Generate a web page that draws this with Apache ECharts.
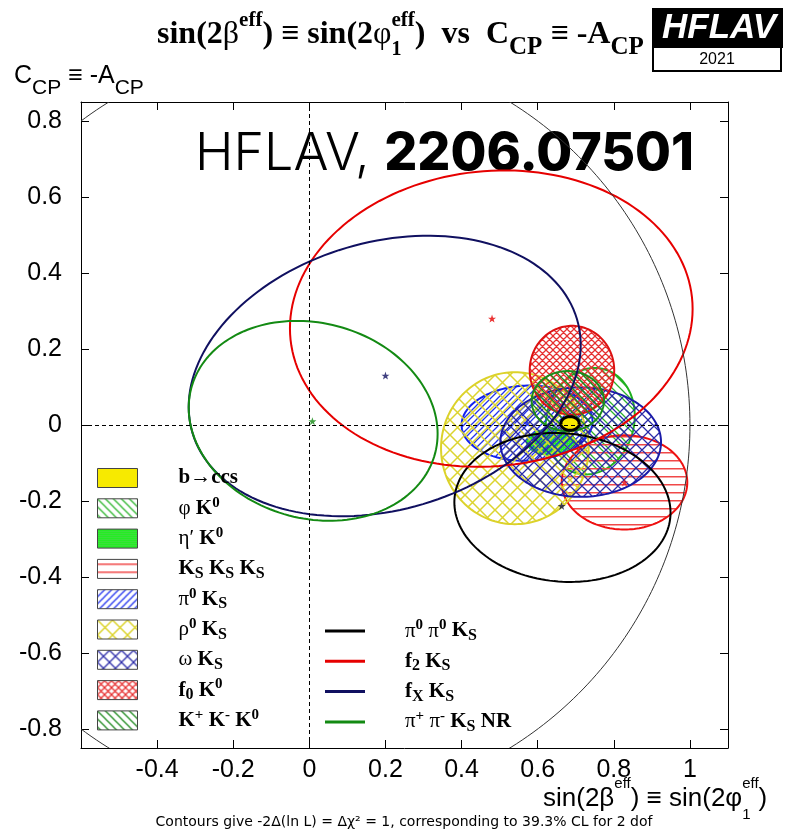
<!DOCTYPE html>
<html>
<head>
<meta charset="utf-8">
<script src="https://cdn.jsdelivr.net/npm/echarts@6.0.0/dist/echarts.min.js"></script>
<style>
html, body { margin: 0; padding: 0; background: #fff; }
#main { width: 787px; height: 834px; }
</style>
</head>
<body>
<div id="main"></div>
<script>
// tick labels
const xTicks = [-0.4, -0.2, 0, 0.2, 0.4, 0.6, 0.8, 1]
const yTicks = [-0.8, -0.6, -0.4, -0.2, 0, 0.2, 0.4, 0.6, 0.8]

// filled contours: central value, 1 sigma errors, correlation
const areaNames = ['b→ccs', 'φ K0', 'η′ K0', 'KS KS KS', 'π0 KS', 'ρ0 KS', 'ω KS', 'f0 K0', 'K+ K- K0']
const areaS    = [0.685, 0.738, 0.635, 0.828, 0.572, 0.540, 0.713, 0.690, 0.679]
const areaC    = [0.004, 0.010, -0.045, -0.151, 0.005, -0.061, -0.045, 0.144, 0.063]
const areaErrS = [0.024, 0.117, 0.065, 0.165, 0.172, 0.194, 0.211, 0.111, 0.095]
const areaErrC = [0.018, 0.140, 0.035, 0.124, 0.099, 0.200, 0.144, 0.117, 0.079]
const areaRho  = [0, 0.1, 0, 0, 0.05, 0, 0, 0, 0]

// line contours
const lineNames = ['π0 π0 KS', 'f2 KS', 'fX KS', 'π+ π- KS NR']
const lineS    = [0.665, 0.478, 0.198, 0.010]
const lineC    = [-0.217, 0.280, 0.129, 0.011]
const lineErrS = [0.284, 0.529, 0.515, 0.327]
const lineErrC = [0.196, 0.390, 0.369, 0.263]
const lineRho  = [-0.07, 0.065, 0.22, -0.13]

// central values drawn as stars
const starS = [0.663, 0.480, 0.200, 0.008, 0.828, 0.713, 0.572]
const starC = [-0.213, 0.280, 0.130, 0.010, -0.151, -0.045, 0.005]

// physical boundary S^2 + C^2 = 1
const boundaryRadius = [1]

// ---- styles ----
function hatch(kind, color, s, lw) {
    const c = document.createElement('canvas')
    c.width = s; c.height = s
    const ctx = c.getContext('2d')
    ctx.strokeStyle = color
    ctx.fillStyle = color
    ctx.lineWidth = lw || 1.25
    ctx.beginPath()
    if (kind === '/' || kind === 'x') {
        ctx.moveTo(-1, s + 1); ctx.lineTo(s + 1, -1)
        ctx.moveTo(-s / 2 - 1, s / 2 + 1); ctx.lineTo(s / 2 + 1, -s / 2 - 1)
        ctx.moveTo(s / 2 - 1, 3 * s / 2 + 1); ctx.lineTo(3 * s / 2 + 1, s / 2 - 1)
    }
    if (kind === '\\' || kind === 'x') {
        ctx.moveTo(-1, -1); ctx.lineTo(s + 1, s + 1)
        ctx.moveTo(-s / 2 - 1, s / 2 - 1); ctx.lineTo(s / 2 + 1, 3 * s / 2 + 1)
        ctx.moveTo(s / 2 - 1, -s / 2 - 1); ctx.lineTo(3 * s / 2 + 1, s / 2 + 1)
    }
    ctx.stroke()
    if (kind === '-') ctx.fillRect(0, Math.floor(s / 2), s, 1.5)
    if (kind === 'dots') {
        ctx.fillRect(0, 0, s, s)
        ctx.fillStyle = '#5ccf5c'
        ctx.fillRect(0, 0, 1, 1)
    }
    return { image: c, repeat: 'repeat' }
}

const areaStyle = {
    'b→ccs':     { fill: '#f7ea00', stroke: '#000', width: 3 },
    'φ K0':      { fill: hatch('\\', '#2db52d', 8), stroke: '#1fb01f', width: 2 },
    'η′ K0':     { fill: hatch('dots', '#22ee22', 2), stroke: '#18d818', width: 1 },
    'KS KS KS':  { fill: hatch('-', '#f04848', 8), stroke: '#ee1111', width: 2 },
    'π0 KS':     { fill: hatch('/', '#2233ee', 7), stroke: '#1122ee', width: 2 },
    'ρ0 KS':     { fill: hatch('x', '#dcd430', 15, 1.5), stroke: '#dcd22a', width: 2 },
    'ω KS':      { fill: hatch('x', '#2a2aa8', 12), stroke: '#1a1aa8', width: 2 },
    'f0 K0':     { fill: hatch('x', '#e63030', 7), stroke: '#dd1111', width: 2 },
    'K+ K- K0':  { fill: hatch('\\', '#1f8a1f', 8), stroke: '#1a8c1a', width: 2 }
}
const lineColor = { 'π0 π0 KS': '#000000', 'f2 KS': '#e60000', 'fX KS': '#101060', 'π+ π- KS NR': '#138a13' }
const starColor = ['#111144', '#e60000', '#101060', '#138a13', '#ee1111', '#1a1aa8', '#1122ee']

const labels = {
    'b→ccs': '{m|b→ccs}',
    'φ K0': '{g|φ}{m| K}{p|0}',
    'η′ K0': '{g|η′}{m| K}{p|0}',
    'KS KS KS': '{m|K}{s|S}{m| K}{s|S}{m| K}{s|S}',
    'π0 KS': '{g|π}{p|0}{m| K}{s|S}',
    'ρ0 KS': '{g|ρ}{p|0}{m| K}{s|S}',
    'ω KS': '{g|ω}{m| K}{s|S}',
    'f0 K0': '{m|f}{s|0}{m| K}{p|0}',
    'K+ K- K0': '{m|K}{p|+}{m| K}{p|-}{m| K}{p|0}',
    'π0 π0 KS': '{g|π}{p|0}{g| π}{p|0}{m| K}{s|S}',
    'f2 KS': '{m|f}{s|2}{m| K}{s|S}',
    'fX KS': '{m|f}{s|X}{m| K}{s|S}',
    'π+ π- KS NR': '{g|π}{p|+}{g| π}{p|-}{m| K}{s|S}{m| NR}'
}
const serif = 'Liberation Serif'
const legendRich = {
    m: { fontFamily: serif, fontWeight: 'bold', fontSize: 21, lineHeight: 26, color: '#000' },
    g: { fontFamily: serif, fontWeight: 'normal', fontSize: 21, lineHeight: 26, color: '#000' },
    p: { fontFamily: serif, fontWeight: 'bold', fontSize: 15, lineHeight: 14, verticalAlign: 'top', color: '#000' },
    s: { fontFamily: serif, fontWeight: 'bold', fontSize: 16, lineHeight: 15, verticalAlign: 'bottom', color: '#000' }
}

function ellipse(style) {
    return function (params, api) {
        const cx = api.value(0), cy = api.value(1), sx = api.value(2), sy = api.value(3), r = api.value(4)
        const pts = []
        for (let k = 0; k < 160; k++) {
            const t = 2 * Math.PI * k / 160
            pts.push(api.coord([cx + sx * Math.cos(t), cy + sy * (r * Math.cos(t) + Math.sqrt(1 - r * r) * Math.sin(t))]))
        }
        return {
            type: 'polygon',
            shape: { points: pts },
            style: { fill: style.fill, stroke: style.stroke, lineWidth: style.width }
        }
    }
}

let series = []
areaNames.slice(1).forEach(n => {
    const i = areaNames.indexOf(n)
    series.push({
        name: n, type: 'custom', clip: true,
        renderItem: ellipse(areaStyle[n]),
        encode: { x: 0, y: 1 },
        data: [[areaS[i], areaC[i], areaErrS[i], areaErrC[i], areaRho[i]]]
    })
})
lineNames.forEach((n, i) => {
    series.push({
        name: n, type: 'custom', clip: true,
        renderItem: ellipse({ fill: 'none', stroke: lineColor[n], width: 2 }),
        encode: { x: 0, y: 1 },
        data: [[lineS[i], lineC[i], lineErrS[i], lineErrC[i], lineRho[i]]]
    })
})
// boundary circle + zero lines
series.push({
    type: 'custom', clip: true,
    renderItem: function (params, api) {
        const R = api.value(0)
        const pts = []
        for (let k = 0; k <= 360; k++) {
            const t = 2 * Math.PI * k / 360
            pts.push(api.coord([R * Math.cos(t), R * Math.sin(t)]))
        }
        return { type: 'polyline', shape: { points: pts }, style: { fill: 'none', stroke: '#333', lineWidth: 1 } }
    },
    encode: { x: 0, y: 0 },
    data: boundaryRadius.map(r => [r]),
    markLine: {
        silent: true, symbol: 'none', label: { show: false },
        lineStyle: { color: '#000', width: 1, type: [4, 3] },
        data: [{ xAxis: 0 }, { yAxis: 0 }]
    }
})
series.push({
    type: 'scatter', silent: true,
    symbol: 'path://M0,-10L2.35,-3.09L9.51,-3.09L3.8,1.18L5.88,8.09L0,3.82L-5.88,8.09L-3.8,1.18L-9.51,-3.09L-2.35,-3.09Z',
    symbolSize: 8,
    data: starS.map((s, i) => ({ value: [s, starC[i]], itemStyle: { color: starColor[i] } }))
})
// b->ccs on top
series.push({
    name: areaNames[0], type: 'custom', clip: true,
    renderItem: ellipse(areaStyle[areaNames[0]]),
    encode: { x: 0, y: 1 },
    data: [[areaS[0], areaC[0], areaErrS[0], areaErrC[0], areaRho[0]]]
})

const sans = 'Liberation Sans'
const axisFont = { fontFamily: sans, fontSize: 25, color: '#000' }
const tickStyle = { show: true, inside: true, length: 8, lineStyle: { color: '#000', width: 1 } }
const lineStyle = { show: true, onZero: false, lineStyle: { color: '#000', width: 1 } }

let myChart = echarts.init(document.getElementById('main'))
let option = {
    animation: false,
    backgroundColor: '#fff',
    grid: { left: 81, right: 59, top: 102, bottom: 86 },
    xAxis: [
        { type: 'value', min: -0.6, max: 1.1, position: 'bottom', axisLine: lineStyle,
          axisTick: Object.assign({ customValues: xTicks }, tickStyle),
          axisLabel: Object.assign({ customValues: xTicks, margin: 10 }, axisFont),
          splitLine: { show: false } },
        { type: 'value', min: -0.6, max: 1.1, position: 'top', axisLine: lineStyle,
          axisTick: Object.assign({ customValues: xTicks }, tickStyle),
          axisLabel: { show: false }, splitLine: { show: false } }
    ],
    yAxis: [
        { type: 'value', min: -0.85, max: 0.85, position: 'left', axisLine: lineStyle,
          axisTick: Object.assign({ customValues: yTicks }, tickStyle),
          axisLabel: Object.assign({ customValues: yTicks, margin: 19 }, axisFont),
          splitLine: { show: false } },
        { type: 'value', min: -0.85, max: 0.85, position: 'right', axisLine: lineStyle,
          axisTick: Object.assign({ customValues: yTicks }, tickStyle),
          axisLabel: { show: false }, splitLine: { show: false } }
    ],
    legend: [
        {
            data: areaNames.map(n => ({ name: n, icon: 'rect',
                itemStyle: { color: areaStyle[n].fill, borderColor: '#444', borderWidth: 1 } })),
            orient: 'vertical', left: 97, top: 465, padding: 0,
            itemWidth: 40, itemHeight: 19, itemGap: 4.3,
            selectedMode: false,
            formatter: n => labels[n],
            textStyle: { padding: [0, 0, 0, 36], height: 26, lineHeight: 26, rich: legendRich }
        },
        {
            data: lineNames.map(n => ({ name: n, icon: 'rect', itemStyle: { color: lineColor[n], borderWidth: 0 } })),
            orient: 'vertical', left: 325, top: 618, padding: 0,
            itemWidth: 40, itemHeight: 3, itemGap: 4.3,
            selectedMode: false,
            formatter: n => labels[n],
            textStyle: { padding: [0, 0, 0, 35], height: 26, lineHeight: 26, rich: legendRich }
        }
    ],
    graphic: [
        {   // title
            type: 'text', x: 157, y: 10, silent: true,
            style: {
                text: '{t|sin(2}{g|β}{p|eff}{t|) ≡ sin(2}{g|φ}{q|1}{p|eff}{t|)  vs  C}{s|CP}{t| ≡ -A}{s|CP}',
                rich: {
                    t: { fontFamily: serif, fontWeight: 'bold', fontSize: 32, lineHeight: 50, color: '#000' },
                    g: { fontFamily: serif, fontWeight: 'normal', fontSize: 32, lineHeight: 50, color: '#000' },
                    p: { fontFamily: serif, fontWeight: 'bold', fontSize: 21, lineHeight: 19, verticalAlign: 'top', color: '#000' },
                    q: { fontFamily: serif, fontWeight: 'bold', fontSize: 20, lineHeight: 39, verticalAlign: 'bottom', width: 0, color: '#000' },
                    s: { fontFamily: serif, fontWeight: 'bold', fontSize: 25, lineHeight: 25, verticalAlign: 'bottom', color: '#000' }
                }
            }
        },
        { type: 'rect', silent: true, shape: { x: 652, y: 8, width: 131, height: 40 }, style: { fill: '#000' } },
        { type: 'rect', silent: true, shape: { x: 653, y: 47, width: 128, height: 24 }, style: { fill: '#fff', stroke: '#000', lineWidth: 2 } },
        {
            type: 'text', x: 719, y: 28, silent: true,
            style: { text: 'HFLAV', fontFamily: sans, fontStyle: 'italic', fontWeight: 'bold', fontSize: 35,
                     fill: '#fff', align: 'center', verticalAlign: 'middle',
                     textShadowColor: '#22cc22', textShadowOffsetX: -2, textShadowOffsetY: 0, textShadowBlur: 0 }
        },
        {
            type: 'text', x: 717, y: 60, silent: true,
            style: { text: '2021', fontFamily: sans, fontSize: 16, fill: '#000', align: 'center', verticalAlign: 'middle' }
        },
        {   // y axis title
            type: 'text', x: 14, y: 53, silent: true,
            style: {
                text: '{m|C}{s|CP}{m| ≡ -A}{s|CP}',
                rich: {
                    m: { fontFamily: sans, fontSize: 25, lineHeight: 46, color: '#000' },
                    s: { fontFamily: sans, fontSize: 21, lineHeight: 21, verticalAlign: 'bottom', color: '#000' }
                }
            }
        },
        {   // x axis title
            type: 'text', x: 543, y: 776, silent: true,
            style: {
                text: '{m|sin(2β}{p|eff}{m|) ≡ sin(2φ}{q|1}{p|eff}{m|)}',
                rich: {
                    m: { fontFamily: sans, fontSize: 26, lineHeight: 46, color: '#000' },
                    p: { fontFamily: sans, fontSize: 15, lineHeight: 15, verticalAlign: 'top', color: '#000' },
                    q: { fontFamily: sans, fontSize: 15, lineHeight: 44, verticalAlign: 'bottom', width: 0, color: '#000' }
                }
            }
        },
        {
            type: 'text', x: 195, y: 128, silent: true,
            style: {
                text: '{a|HFLAV, }{b|2206.07501}',
                rich: {
                    a: { fontFamily: 'Inter', fontWeight: 300, fontSize: 52, color: '#000' },
                    b: { fontFamily: 'Inter', fontWeight: 800, fontSize: 52, color: '#000' }
                }
            }
        },
        {
            type: 'text', x: 404, y: 822, silent: true,
            style: { text: 'Contours give -2Δ(ln L) = Δχ² = 1, corresponding to 39.3% CL for 2 dof',
                     fontFamily: 'DejaVu Sans', fontSize: 14, fill: '#000', align: 'center', verticalAlign: 'middle' }
        }
    ],
    series: series
}

myChart.setOption(option)
</script>
</body>
</html>
